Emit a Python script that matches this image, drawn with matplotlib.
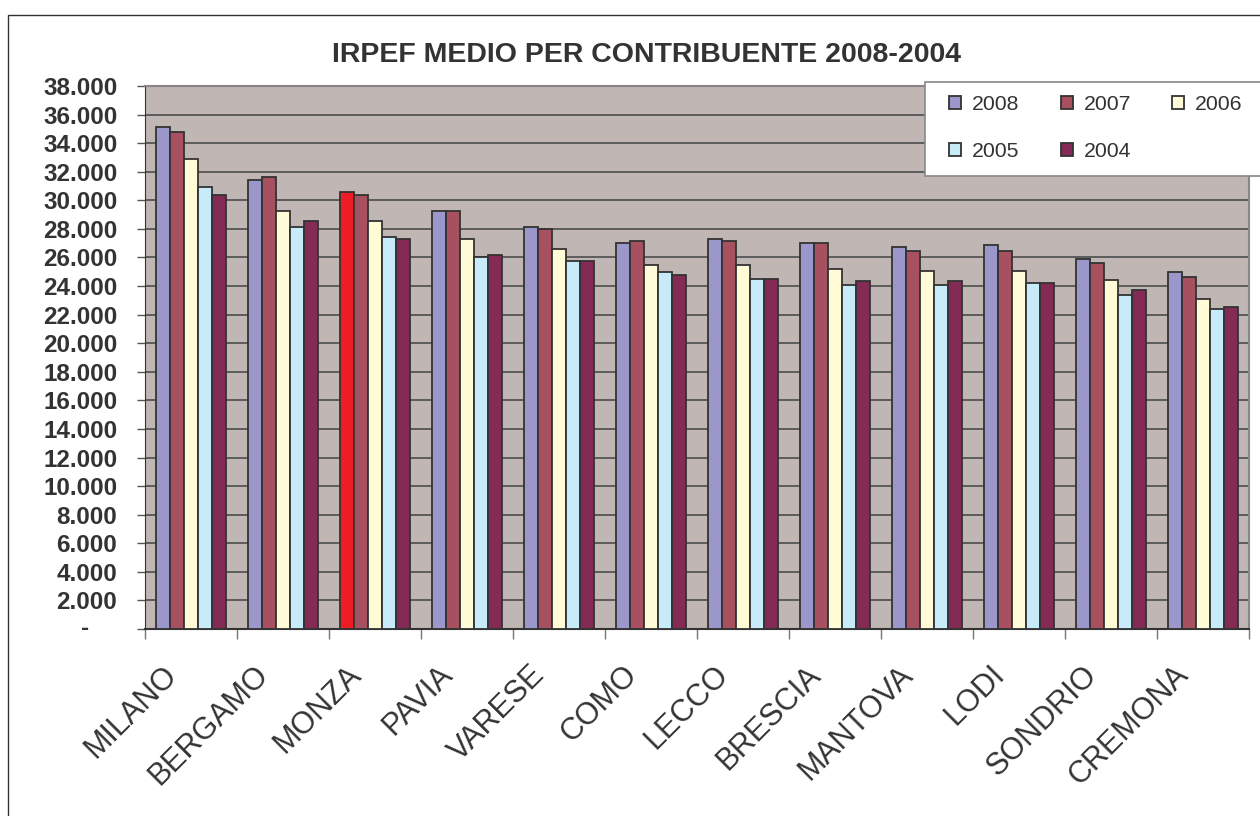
import numpy as np
import matplotlib
matplotlib.use("Agg")
import matplotlib.pyplot as plt
from matplotlib.patches import Rectangle, Patch
from matplotlib.transforms import blended_transform_factory, ScaledTranslation

# ---------------- data ----------------
cities = ["MILANO", "BERGAMO", "MONZA", "PAVIA", "VARESE", "COMO",
          "LECCO", "BRESCIA", "MANTOVA", "LODI", "SONDRIO", "CREMONA"]
years = ["2008", "2007", "2006", "2005", "2004"]
v2008 = [35150, 31400, 30550, 29250, 28150, 27000, 27300, 27000, 26750, 26900, 25900, 24950]
v2007 = [34750, 31650, 30400, 29250, 28000, 27150, 27150, 27000, 26450, 26450, 25600, 24650]
v2006 = [32900, 29250, 28550, 27300, 26600, 25500, 25500, 25200, 25050, 25050, 24400, 23100]
v2005 = [30950, 28150, 27450, 26050, 25750, 24950, 24500, 24100, 24100, 24200, 23400, 22400]
v2004 = [30400, 28550, 27300, 26200, 25750, 24800, 24500, 24350, 24350, 24200, 23700, 22550]
series = [v2008, v2007, v2006, v2005, v2004]
colors = ["#9B97CB", "#A65060", "#FFFBD6", "#C7EBF9", "#842B55"]
highlight_city = "MONZA"
highlight_year = "2008"
highlight_color = "#EE1C25"
title = "IRPEF MEDIO PER CONTRIBUENTE 2008-2004"
yticks = list(range(0, 38001, 2000))

W, H = 1260, 816
fig = plt.figure(figsize=(W / 100, H / 100), dpi=100)
fig.patch.set_facecolor("white")

# outer chart border
fig.add_artist(Rectangle((8 / W, -0.05), 1.2, 1 - 15 / H + 0.05,
                         transform=fig.transFigure, facecolor="none",
                         edgecolor="#333333", lw=1.0, zorder=0))

L, R, T, B = 145, 1249, 86, 629
ax = fig.add_axes([L / W, 1 - B / H, (R - L) / W, (B - T) / H])
ax.set_facecolor("#C0B7B4")

x = np.arange(len(cities))
bw = 14 / 92
for i, (yr, vals, col) in enumerate(zip(years, series, colors)):
    cols = [highlight_color if (c == highlight_city and yr == highlight_year) else col
            for c in cities]
    ax.bar(x + (i - 2) * bw, vals, width=bw, color=cols, edgecolor="#333333",
           linewidth=1.3, zorder=3)

ax.set_xlim(-0.5, len(cities) - 0.5)
ax.set_ylim(0, 38000)

ax.set_yticks(yticks)
ax.yaxis.grid(True, color="#555555", linewidth=1.3, zorder=1)
ax.set_axisbelow(True)
ylabels = ["" if v == 0 else f"{v:,}".replace(",", ".") for v in yticks]
ax.set_yticklabels(ylabels, fontsize=17.5, fontweight="bold",
                   fontfamily="Liberation Sans", color="#333333")
ax.tick_params(axis="y", direction="out", length=6, width=1, color="#555555", pad=14)
fig.text(85 / W, 1 - 628 / H, "-", ha="center", va="center", fontsize=17.5,
         fontweight="bold", fontfamily="Liberation Sans", color="#333333")

ax.set_xticks(np.arange(-0.5, len(cities), 1))
ax.set_xticklabels([])
ax.tick_params(axis="x", direction="out", length=7.5, width=1, color="#777777")

trans = blended_transform_factory(ax.transData, ax.transAxes) + \
    ScaledTranslation(-13 / 100, -47 / 100, fig.dpi_scale_trans)
for xi, c in zip(x, cities):
    ax.text(xi, 0, c, transform=trans, rotation=45, rotation_mode="anchor",
            ha="right", va="baseline", fontsize=22, fontfamily="Liberation Sans",
            color="#333333")

for s in ["top", "right"]:
    ax.spines[s].set_color("#8C8484")
    ax.spines[s].set_linewidth(1.5)
ax.spines["left"].set_color("#333333")
ax.spines["bottom"].set_color("#333333")
ax.spines["bottom"].set_linewidth(1.5)

fig.text(647 / W, 1 - 55 / H, title, ha="center", va="center", fontsize=20.5,
         fontweight="bold", fontfamily="Liberation Sans", color="#333333")

# legend box
fig.add_artist(Rectangle((925 / W, 1 - 176 / H), 400 / W, 94 / H,
                         transform=fig.transFigure, facecolor="white",
                         edgecolor="#888888", lw=1.2, zorder=3))
handles = [Patch(facecolor=c, edgecolor="#333333", linewidth=1.3) for c in colors]
order = [0, 3, 1, 4, 2]
leg = fig.legend([handles[k] for k in order], [years[k] for k in order],
                 loc="upper left", bbox_to_anchor=(949 / W, 1 - 95 / H),
                 frameon=False, ncol=3, prop={"family": "Liberation Sans", "size": 15.3},
                 handlelength=0.57, handleheight=0.57, handletextpad=0.5,
                 columnspacing=1.95, labelspacing=1.3, borderaxespad=0, borderpad=0)
for t in leg.get_texts():
    t.set_color("#333333")
leg.set_zorder(5)

fig.savefig("out.png", dpi=100)
